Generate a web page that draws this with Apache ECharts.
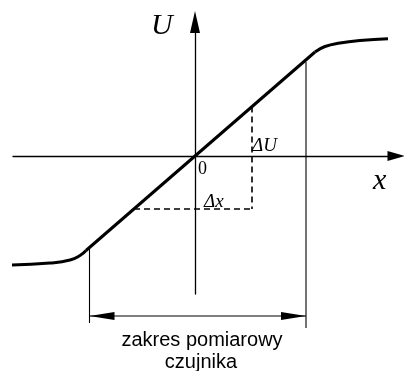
<!DOCTYPE html>
<html>
<head>
<meta charset="utf-8">
<script src="https://cdn.jsdelivr.net/npm/echarts@6/dist/echarts.min.js"></script>
<style>
  html, body { margin: 0; padding: 0; background: #fff; }
  #chart { width: 404px; height: 371px; }
</style>
</head>
<body>
<div id="chart"></div>
<script>
// characteristic of the sensor: linear part + saturation at both ends
const linearPart = [[-10.9, -9.45], [12.0, 10.4]];
const upperCurve = [[12.0, 10.4], [13.0, 10.95], [14.5, 11.3], [16.5, 11.55], [19.3, 11.72]];
const lowerCurve = [[-18.3, -10.9], [-14.5, -10.7], [-12.5, -10.4], [-11.5, -9.95], [-10.9, -9.45]];

// measuring range edges (x) and the levels of its guide lines
const rangeEdges = [-10.55, 11.1];
const leftGuide = [[-10.55, -9.2], [-10.55, -16.7]];
const rightGuide = [[11.1, 9.4], [11.1, -17.2]];
const rangeArrowY = -16.0;

// delta construction
const deltaVertical = [[5.7, 4.95], [5.7, -5.3]];
const deltaHorizontal = [[-6.1, -5.3], [5.7, -5.3]];

const chart = echarts.init(document.getElementById('chart'));

const thinLine = { color: '#000', width: 1.1 };
const dashLine = { color: '#000', width: 1.6, type: [6, 4] };

const option = {
  animation: false,
  grid: { left: 13, right: 8, top: 22, bottom: 77 },
  xAxis: {
    type: 'value', min: -18.2, max: 20.1,
    axisLine: { onZero: true, lineStyle: { color: '#000', width: 1.3 }, symbol: ['none', 'triangle'], symbolSize: [10, 17] },
    axisTick: { show: false }, axisLabel: { show: false }, splitLine: { show: false }
  },
  yAxis: {
    type: 'value', min: -13.8, max: 13.4,
    axisLine: { onZero: true, lineStyle: { color: '#000', width: 1.3 }, symbol: ['none', 'triangle'], symbolSize: [10, 22] },
    axisTick: { show: false }, axisLabel: { show: false }, splitLine: { show: false }
  },
  series: [
    { type: 'line', data: linearPart, symbol: 'none', clip: false, lineStyle: { color: '#000', width: 3 } },
    { type: 'line', data: upperCurve, smooth: true, symbol: 'none', clip: false, lineStyle: { color: '#000', width: 3 } },
    { type: 'line', data: lowerCurve, smooth: true, symbol: 'none', clip: false, lineStyle: { color: '#000', width: 3 } },
    { type: 'line', data: leftGuide, symbol: 'none', clip: false, lineStyle: thinLine },
    { type: 'line', data: rightGuide, symbol: 'none', clip: false, lineStyle: thinLine },
    { type: 'line', data: deltaVertical, symbol: 'none', clip: false, lineStyle: dashLine },
    { type: 'line', data: deltaHorizontal, symbol: 'none', clip: false, lineStyle: dashLine },
    {
      // double arrow of the measuring range
      type: 'custom',
      data: [[rangeEdges[0], rangeEdges[1], rangeArrowY]],
      renderItem: function (params, api) {
        const a = api.coord([api.value(0), api.value(2)]);
        const b = api.coord([api.value(1), api.value(2)]);
        const L = 25, H = 4;
        return {
          type: 'group',
          children: [
            { type: 'line', shape: { x1: a[0], y1: a[1], x2: b[0], y2: b[1] }, style: { stroke: '#000', lineWidth: 1.2 } },
            { type: 'polygon', shape: { points: [[a[0], a[1]], [a[0] + L, a[1] - H], [a[0] + L, a[1] + H]] }, style: { fill: '#000' } },
            { type: 'polygon', shape: { points: [[b[0], b[1]], [b[0] - L, b[1] - H], [b[0] - L, b[1] + H]] }, style: { fill: '#000' } }
          ]
        };
      }
    }
  ],
  graphic: [
    { type: 'text', left: 151, top: 11, style: { text: 'U', font: 'italic 30px "Liberation Serif"', fill: '#000' } },
    { type: 'text', left: 373, top: 166, style: { text: 'x', font: 'italic 30px "Liberation Serif"', fill: '#000' } },
    { type: 'text', left: 198, top: 160, style: { text: '0', font: '18px "Liberation Serif"', fill: '#000' } },
    { type: 'text', left: 252, top: 136, style: { text: 'ΔU', font: 'italic 19px "Liberation Serif"', fill: '#000' } },
    { type: 'text', left: 204, top: 192, style: { text: 'Δx', font: 'italic 19px "Liberation Serif"', fill: '#000' } },
    { type: 'text', x: 202, y: 330, style: { text: 'zakres pomiarowy', font: '20px "Liberation Sans"', fill: '#000', align: 'center' } },
    { type: 'text', x: 201, y: 352, style: { text: 'czujnika', font: '20px "Liberation Sans"', fill: '#000', align: 'center' } }
  ]
};

chart.setOption(option);
</script>
</body>
</html>
